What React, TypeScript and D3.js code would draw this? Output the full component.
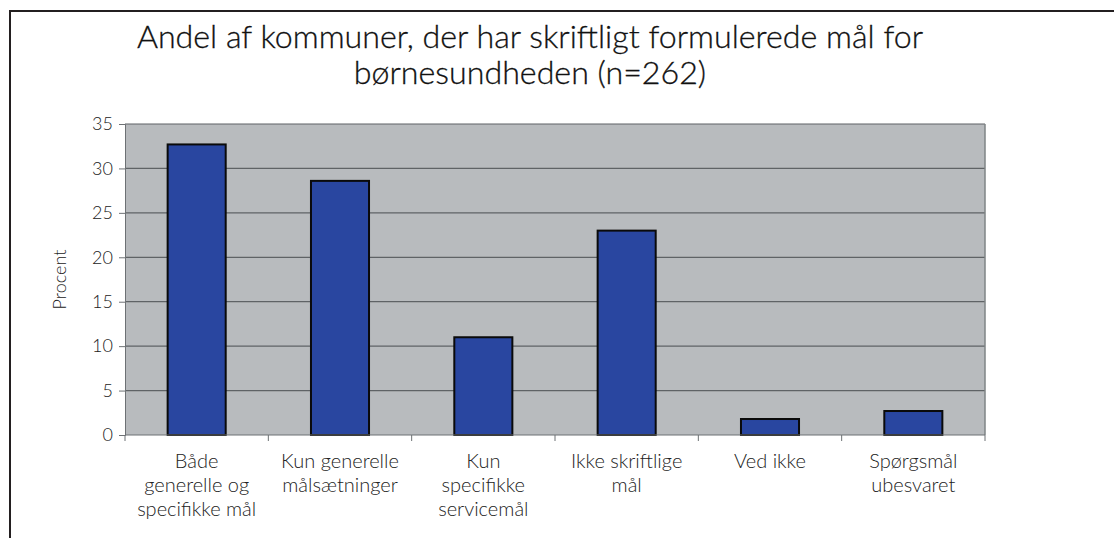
import React, { useEffect, useRef } from 'react';
import * as d3 from 'd3';

const categories = [
  'Både|generelle og|specifikke mål',
  'Kun generelle|målsætninger',
  'Kun|specifikke|servicemål',
  'Ikke skriftlige|mål',
  'Ved ikke',
  'Spørgsmål|ubesvaret',
];
const values = [32.7, 28.6, 11.0, 23.0, 1.8, 2.7];
const yTicks = [0, 5, 10, 15, 20, 25, 30, 35];
const titleLines = [
  'Andel af kommuner, der har skriftligt formulerede mål for',
  'børnesundheden (n=262)',
];
const yLabel = 'Procent';

export default function App() {
  const ref = useRef<SVGSVGElement>(null);

  useEffect(() => {
    const width = 1114;
    const height = 538;
    const margin = { top: 124, right: 129, bottom: 103, left: 125 };
    const font = 'Lato, "Open Sans", sans-serif';

    const svg = d3.select(ref.current);
    svg.selectAll('*').remove();

    // outer frame (only top and left visible in the picture)
    svg.append('path')
      .attr('d', `M10,${height} V11 H${width}`)
      .attr('fill', 'none')
      .attr('stroke', '#231f20')
      .attr('stroke-width', 2);

    svg.append('g')
      .selectAll('text')
      .data(titleLines)
      .join('text')
      .attr('x', 530)
      .attr('y', (d, i) => 48 + i * 36)
      .attr('text-anchor', 'middle')
      .attr('font-family', font)
      .attr('font-weight', 300)
      .attr('font-size', 32.2)
      .attr('fill', '#111')
      .attr('stroke', '#111')
      .attr('stroke-width', 0.3)
      .text(d => d);

    const x = d3.scaleBand()
      .domain(categories)
      .range([margin.left, width - margin.right])
      .paddingInner(0.595)
      .paddingOuter(0.2975);

    const y = d3.scaleLinear()
      .domain([0, 35])
      .range([height - margin.bottom, margin.top]);

    svg.append('rect')
      .attr('x', margin.left)
      .attr('y', y(35))
      .attr('width', width - margin.right - margin.left)
      .attr('height', y(0) - y(35))
      .attr('fill', '#b8bbbe');

    // gridlines
    svg.append('g')
      .selectAll('line')
      .data(yTicks.filter(t => t > 0))
      .join('line')
      .attr('x1', margin.left)
      .attr('x2', width - margin.right)
      .attr('y1', d => y(d))
      .attr('y2', d => y(d))
      .attr('stroke', '#5f6366')
      .attr('stroke-width', 1.2);

    svg.append('line')
      .attr('x1', width - margin.right)
      .attr('x2', width - margin.right)
      .attr('y1', y(35))
      .attr('y2', y(0))
      .attr('stroke', '#7f8486')
      .attr('stroke-width', 1.5);

    svg.append('g')
      .selectAll('rect')
      .data(values)
      .join('rect')
      .attr('x', (d, i) => x(categories[i]) as number)
      .attr('y', d => y(d))
      .attr('width', x.bandwidth())
      .attr('height', d => y(0) - y(d))
      .attr('fill', '#2946a0')
      .attr('stroke', '#0a0a0a')
      .attr('stroke-width', 2);

    // y axis
    const yAxis = svg.append('g')
      .attr('transform', `translate(${margin.left},0)`)
      .call(d3.axisLeft(y).tickValues(yTicks).tickSize(6).tickPadding(6));
    yAxis.select('.domain').attr('stroke', '#6d7174');
    yAxis.selectAll('.tick line').attr('stroke', '#6d7174');
    yAxis.selectAll('.tick text')
      .attr('font-family', font)
      .attr('font-weight', 300)
      .attr('font-size', 18)
      .attr('fill', '#222');

    // x axis
    const step = x.step();
    const boundaries = d3.range(categories.length + 1).map(i => margin.left + i * step);
    svg.append('line')
      .attr('x1', margin.left)
      .attr('x2', width - margin.right)
      .attr('y1', y(0))
      .attr('y2', y(0))
      .attr('stroke', '#6d7174');
    svg.append('g')
      .selectAll('line')
      .data(boundaries)
      .join('line')
      .attr('x1', d => d)
      .attr('x2', d => d)
      .attr('y1', y(0))
      .attr('y2', y(0) + 6)
      .attr('stroke', '#6d7174');

    const labels = svg.append('g')
      .selectAll('text')
      .data(categories)
      .join('text')
      .attr('x', d => (x(d) as number) + x.bandwidth() / 2)
      .attr('y', y(0) + 33)
      .attr('text-anchor', 'middle')
      .attr('font-family', font)
      .attr('font-weight', 300)
      .attr('font-size', 20)
      .attr('fill', '#222');
    labels.selectAll('tspan')
      .data(d => d.split('|'))
      .join('tspan')
      .attr('x', function () {
        return (this as SVGTSpanElement).parentElement!.getAttribute('x');
      })
      .attr('dy', (d, i) => (i === 0 ? 0 : 24))
      .text(d => d);

    svg.append('text')
      .attr('transform', `translate(66,${(y(0) + y(35)) / 2}) rotate(-90)`)
      .attr('text-anchor', 'middle')
      .attr('font-family', font)
      .attr('font-weight', 300)
      .attr('font-size', 18)
      .attr('fill', '#222')
      .text(yLabel);
  }, []);

  return (
    <svg
      ref={ref}
      width={1114}
      height={538}
      style={{ position: 'absolute', left: 0, top: 0, background: '#fff' }}
    />
  );
}
